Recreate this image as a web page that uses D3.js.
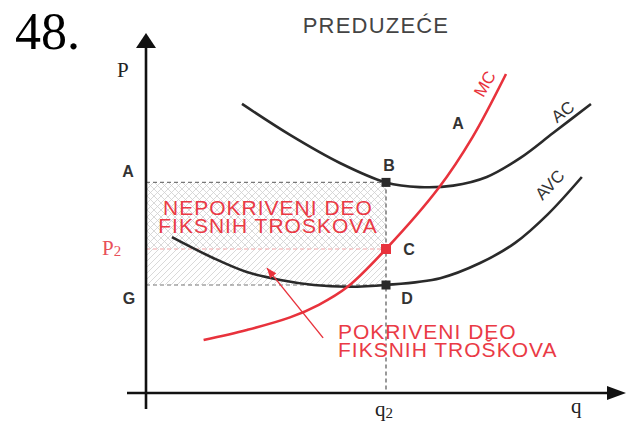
<!DOCTYPE html>
<html><head><meta charset="utf-8">
<script src="https://cdn.jsdelivr.net/npm/d3@7"></script>
<style>html,body{margin:0;padding:0;background:#fff;} svg{display:block}</style>
</head><body><svg id="chart" width="628" height="424"></svg>
<script>
// ---- data (economic units: quantity 0..100, price 0..100) ----
const priceLevelNames = ["A", "P2", "G"];
const priceLevels = [58.5, 40, 30];
const quantityName = "q2";
const quantityLevel = 50;

const acQ = [20, 30, 40.4, 50, 57, 64, 71, 78, 84.8, 92.7];
const acP = [80.3, 71.7, 63.9, 58.5, 57.2, 57.6, 60, 65.3, 72.2, 80.3];

const avcQ = [5.4, 14, 21, 28, 35, 42, 50, 61.3, 69.6, 76.9, 83.75, 90.8];
const avcP = [43.3, 37.5, 33.6, 31.4, 30, 29.5, 30, 31.9, 36.1, 41.7, 49.7, 60];

const mcQ = [12, 21, 30, 36, 42, 50, 61, 68, 75];
const mcP = [14.7, 17.5, 21, 24.5, 29.5, 40, 57, 71, 88.6];

const arrowQ = [36.9, 25.2];
const arrowP = [15.3, 34.7];

const titleText = "PREDUZEĆE";
const numberText = "48.";
const uncoveredText = ["NEPOKRIVENI DEO", "FIKSNIH TROŠKOVA"];
const coveredText = ["POKRIVENI DEO", "FIKSNIH TROŠKOVA"];

// ---- drawing ----
const svg = d3.select("#chart");
const x = d3.scaleLinear().domain([0, 100]).range([146, 626]);
const y = d3.scaleLinear().domain([0, 100]).range([393, 33]);

const RED = "#e8323c";
const TXTRED = "#ea3a45";
const DARK = "#2a2a2a";
const sans = "'Liberation Sans', Arial, sans-serif";
const serif = "'Liberation Serif', 'Times New Roman', serif";

const defs = svg.append("defs");
const cross = defs.append("pattern").attr("id", "cross").attr("patternUnits", "userSpaceOnUse")
  .attr("width", 7).attr("height", 7);
cross.append("path").attr("d", "M0,7 L7,0 M-1,1 L1,-1 M6,8 L8,6 M0,0 L7,7 M-1,6 L1,8 M6,-1 L8,1")
  .attr("stroke", "#cfcfcf").attr("stroke-width", 0.8);
const single = defs.append("pattern").attr("id", "single").attr("patternUnits", "userSpaceOnUse")
  .attr("width", 6).attr("height", 6);
single.append("path").attr("d", "M0,6 L6,0 M-1,1 L1,-1 M5,7 L7,5")
  .attr("stroke", "#cfcfcf").attr("stroke-width", 0.8);

const [pA, p2, pG] = priceLevels;
// hatched areas
svg.append("rect").attr("x", x(0)).attr("y", y(pA))
  .attr("width", x(quantityLevel) - x(0)).attr("height", y(p2) - y(pA))
  .attr("fill", "url(#cross)");
svg.append("rect").attr("x", x(0)).attr("y", y(p2))
  .attr("width", x(quantityLevel) - x(0)).attr("height", y(pG) - y(p2))
  .attr("fill", "url(#single)");

// dashed guides
const dash = "4,3";
svg.append("line").attr("x1", x(0)).attr("x2", x(quantityLevel)).attr("y1", y(pA)).attr("y2", y(pA))
  .attr("stroke", "#777").attr("stroke-width", 1.2).attr("stroke-dasharray", dash);
svg.append("line").attr("x1", x(0)).attr("x2", x(quantityLevel)).attr("y1", y(pG)).attr("y2", y(pG))
  .attr("stroke", "#777").attr("stroke-width", 1.2).attr("stroke-dasharray", dash);
svg.append("line").attr("x1", x(0)).attr("x2", x(quantityLevel)).attr("y1", y(p2)).attr("y2", y(p2))
  .attr("stroke", "#f3a3a6").attr("stroke-width", 1.2).attr("stroke-dasharray", dash);
svg.append("line").attr("x1", x(quantityLevel)).attr("x2", x(quantityLevel)).attr("y1", y(pA)).attr("y2", y(0))
  .attr("stroke", "#555").attr("stroke-width", 1.2).attr("stroke-dasharray", dash);

// curves
const line = d3.line().x(d => x(d[0])).y(d => y(d[1])).curve(d3.curveCatmullRom.alpha(0.5));
const zip = (a, b) => a.map((v, i) => [v, b[i]]);
svg.append("path").attr("d", line(zip(acQ, acP))).attr("fill", "none").attr("stroke", DARK).attr("stroke-width", 2.6);
svg.append("path").attr("d", line(zip(avcQ, avcP))).attr("fill", "none").attr("stroke", DARK).attr("stroke-width", 2.6);
svg.append("path").attr("d", line(zip(mcQ, mcP))).attr("fill", "none").attr("stroke", RED).attr("stroke-width", 2.6);

// markers B, C, D
const markers = [[pA, DARK, 9], [p2, RED, 10], [pG, DARK, 9]];
markers.forEach(([p, c, s]) => {
  svg.append("rect").attr("x", x(quantityLevel) - s / 2).attr("y", y(p) - s / 2)
    .attr("width", s).attr("height", s).attr("fill", c);
});

// axes
svg.append("line").attr("x1", x(0)).attr("x2", x(0)).attr("y1", y(0) + 16).attr("y2", y(100) + 12)
  .attr("stroke", "#111").attr("stroke-width", 2.6);
svg.append("path").attr("d", `M${x(0)},${y(100)} L${x(0) - 10},${y(100) + 15} L${x(0) + 10},${y(100) + 15} Z`).attr("fill", "#111");
svg.append("line").attr("x1", x(0) - 19).attr("x2", x(100) - 16).attr("y1", y(0)).attr("y2", y(0))
  .attr("stroke", "#111").attr("stroke-width", 2.6);
svg.append("path").attr("d", `M${x(100)},${y(0)} L${x(100) - 19},${y(0) - 7} L${x(100) - 19},${y(0) + 7} Z`).attr("fill", "#111");

// arrow annotation
svg.append("line").attr("x1", x(arrowQ[0])).attr("y1", y(arrowP[0]))
  .attr("x2", x(arrowQ[1])).attr("y2", y(arrowP[1]))
  .attr("stroke", RED).attr("stroke-width", 1.4);
{
  const x1 = x(arrowQ[0]), y1 = y(arrowP[0]), x2 = x(arrowQ[1]), y2 = y(arrowP[1]);
  const ang = Math.atan2(y2 - y1, x2 - x1);
  const L = 10, W = 4;
  const bx = x2 - L * Math.cos(ang), by = y2 - L * Math.sin(ang);
  svg.append("path").attr("d",
    `M${x2},${y2} L${bx + W * Math.sin(ang)},${by - W * Math.cos(ang)} L${bx - W * Math.sin(ang)},${by + W * Math.cos(ang)} Z`)
    .attr("fill", RED);
}

// texts
svg.append("text").attr("x", 15).attr("y", 49).attr("font-family", serif).attr("font-size", 52)
  .attr("fill", "#000").text(numberText);
svg.append("text").attr("x", 376).attr("y", 33).attr("text-anchor", "middle")
  .attr("font-family", sans).attr("font-size", 22).attr("letter-spacing", 1.2)
  .attr("fill", "#444").text(titleText);
svg.append("text").attr("x", 117).attr("y", 77).attr("font-family", serif).attr("font-size", 21)
  .attr("fill", "#222").text("P");

// price level labels
const lab = (t, px, py, opts = {}) => svg.append("text").attr("x", px).attr("y", py)
  .attr("font-family", opts.family || sans).attr("font-size", opts.size || 16)
  .attr("font-weight", opts.weight || "bold").attr("fill", opts.fill || "#333")
  .attr("text-anchor", opts.anchor || "middle").text(t);

lab(priceLevelNames[0], x(0) - 18, y(pA) - 5);
lab(priceLevelNames[2], x(0) - 17, y(pG) + 19);
{
  const t = svg.append("text").attr("x", 102).attr("y", y(p2) + 6).attr("font-family", serif)
    .attr("font-size", 21).attr("fill", "#e8505a");
  t.append("tspan").text(priceLevelNames[1][0]);
  t.append("tspan").attr("font-size", 15).attr("dy", 1).text(priceLevelNames[1].slice(1));
}
lab("B", x(quantityLevel) + 3, y(pA) - 11);
lab("C", x(quantityLevel) + 23, y(p2) + 6);
lab("D", x(quantityLevel) + 21, y(pG) + 19);
lab("A", 458, 129);

// q labels
{
  const t = svg.append("text").attr("x", x(quantityLevel) - 11).attr("y", 416).attr("font-family", serif)
    .attr("font-size", 21).attr("fill", "#222");
  t.append("tspan").text(quantityName[0]);
  t.append("tspan").attr("font-size", 15).attr("dy", 2).text(quantityName.slice(1));
}
svg.append("text").attr("x", 571).attr("y", 413).attr("font-family", serif).attr("font-size", 21)
  .attr("fill", "#222").text("q");

// curve labels
const rot = (t, px, py, a, fill) => svg.append("text").attr("transform", `translate(${px},${py}) rotate(${a})`)
  .attr("text-anchor", "middle").attr("dominant-baseline", "central")
  .attr("font-family", sans).attr("font-size", 17).attr("fill", fill).text(t);
rot("MC", 485, 84, -60, RED);
rot("AC", 563, 112, -38, "#333");
rot("AVC", 550, 185, -47, "#333");

// area descriptions (one text element, two lines)
const block = (lines, px, py, anchor) => {
  const t = svg.append("text").attr("x", px).attr("y", py).attr("text-anchor", anchor)
    .attr("font-family", sans).attr("font-size", 21).attr("letter-spacing", 1)
    .attr("fill", TXTRED);
  lines.forEach((s, i) => t.append("tspan").attr("x", px).attr("dy", i === 0 ? 0 : 18).text(s));
};
block(uncoveredText, 268, 215, "middle");
block(coveredText, 338, 339, "start");
</script></body></html>
